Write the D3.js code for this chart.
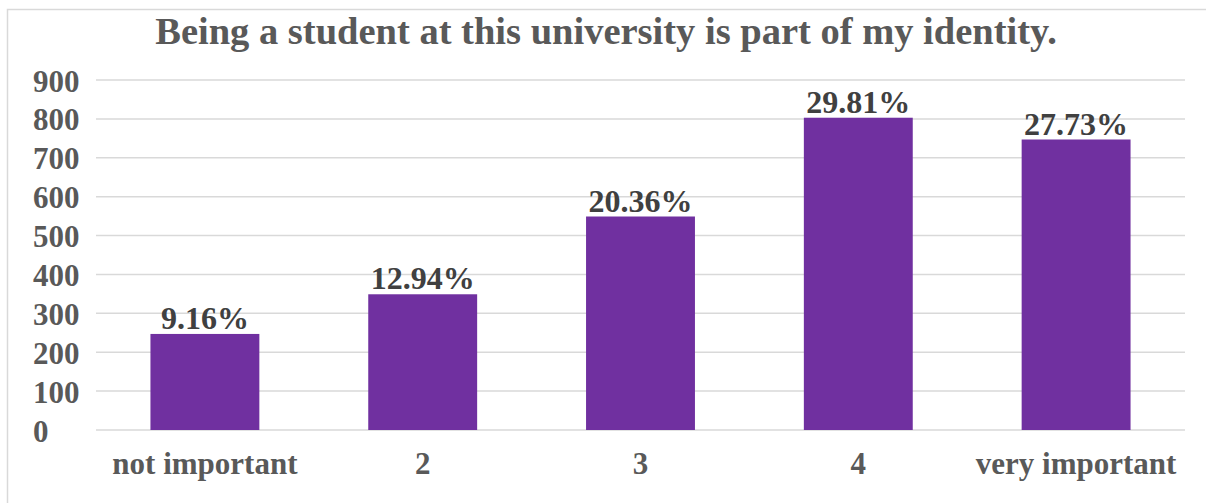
<!DOCTYPE html>
<html>
<head>
<meta charset="utf-8">
<script src="https://cdn.jsdelivr.net/npm/d3@7"></script>
<style>
  html, body { margin: 0; padding: 0; background: #fff; }
  svg { display: block; }
  text { font-family: "Liberation Serif", "Times New Roman", serif; font-weight: bold; }
</style>
</head>
<body>
<svg id="chart" width="1206" height="503"></svg>
<script>
const title = "Being a student at this university is part of my identity.";
const categories = ["not important", "2", "3", "4", "very important"];
const counts = [247, 349, 549, 803, 747];
const percentLabels = ["9.16%", "12.94%", "20.36%", "29.81%", "27.73%"];
const yTicks = [0, 100, 200, 300, 400, 500, 600, 700, 800, 900];

const svg = d3.select("#chart");
const W = 1206, H = 503;
const margin = { left: 96, right: 21, top: 80, bottom: 73 };

svg.append("rect").attr("x", 7.5).attr("y", 9.5)
  .attr("width", W).attr("height", H)
  .attr("fill", "#fff").attr("stroke", "#d9d9d9").attr("stroke-width", 1.5);

const x = d3.scaleBand().domain(categories)
  .range([margin.left, W - margin.right])
  .paddingInner(0.5).paddingOuter(0.25);
const y = d3.scaleLinear().domain([0, 900]).range([H - margin.bottom, margin.top]);

// gridlines
svg.append("g").selectAll("line").data(yTicks).join("line")
  .attr("x1", margin.left).attr("x2", W - margin.right)
  .attr("y1", d => y(d)).attr("y2", d => y(d))
  .attr("stroke", "#d9d9d9").attr("stroke-width", 1.5);

// y labels (left-aligned)
svg.append("g").selectAll("text").data(yTicks).join("text")
  .attr("x", 33).attr("y", d => y(d) + 11.5)
  .attr("font-size", 31).attr("fill", "#595959")
  .text(d => d);

// bars
svg.append("g").selectAll("rect").data(categories).join("rect")
  .attr("x", d => x(d)).attr("width", x.bandwidth())
  .attr("y", (d, i) => y(counts[i]))
  .attr("height", (d, i) => y(0) - y(counts[i]))
  .attr("fill", "#7030a0");

// data labels
svg.append("g").selectAll("text").data(categories).join("text")
  .attr("x", d => x(d) + x.bandwidth() / 2)
  .attr("y", (d, i) => y(counts[i]) - 5)
  .attr("text-anchor", "middle")
  .attr("font-size", 32).attr("fill", "#404040")
  .text((d, i) => percentLabels[i]);

// x labels
svg.append("g").selectAll("text").data(categories).join("text")
  .attr("x", d => x(d) + x.bandwidth() / 2)
  .attr("y", 474)
  .attr("text-anchor", "middle")
  .attr("font-size", 31).attr("fill", "#595959")
  .text(d => d);

// title
svg.append("text").attr("x", 606).attr("y", 44)
  .attr("text-anchor", "middle")
  .attr("font-size", 38.5).attr("fill", "#595959")
  .text(title);
</script>
</body>
</html>
